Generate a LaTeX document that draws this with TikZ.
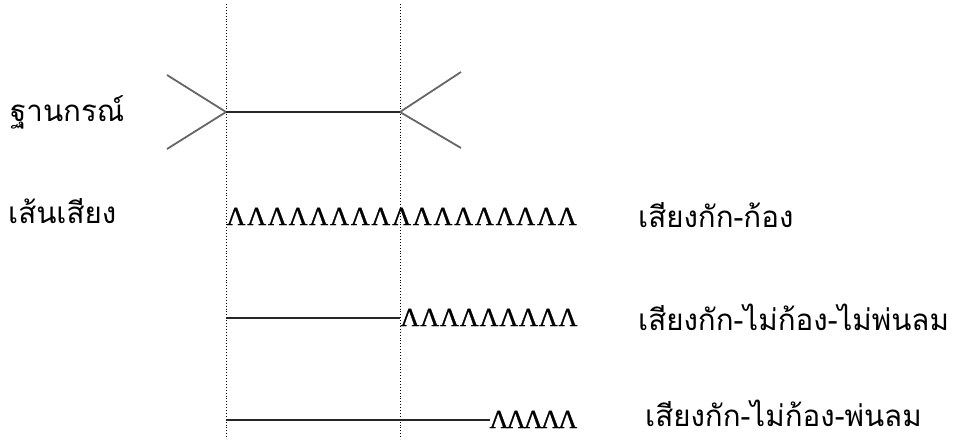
\documentclass[tikz,border=0pt]{standalone}
\usepackage{fontspec}
\setmainfont{Liberation Serif}
\newfontfamily\thaifont[Script=Thai]{Loma}
\newfontfamily\voxfont[FakeBold=1.2]{Liberation Serif}
\usetikzlibrary{positioning}

\begin{document}
\begin{tikzpicture}[x=1pt, y=-1pt,
  lbl/.style={font=\thaifont\fontsize{29.5}{32}\selectfont, inner sep=0pt, text depth=0pt, anchor=base west},
  vox/.style={font=\voxfont\fontsize{26}{26}\selectfont, inner sep=0pt, anchor=base},
  guide/.style={dotted, line width=0.9pt},
  arm/.style={draw=black!60, line width=1.8pt},
  hold/.style={draw=black!85, line width=1.2pt}]
\useasboundingbox (0,0) rectangle (965,439);

% guide lines at closure and release
\coordinate (g1top) at (226,4);
\coordinate (g1bot) at (226,439);
\coordinate (g2top) at (400,4);
\coordinate (g2bot) at (400,439);
\draw[guide] (g1top) -- (g1bot);
\draw[guide] (g2top) -- (g2bot);

% articulators
\node[lbl] (art) at (10,121) {ฐานกรณ์};
\coordinate (c1) at (226,112);
\coordinate (c2) at (400,112);
\coordinate (a1) at (167,75);
\coordinate (a2) at (167,149);
\coordinate (a3) at (461,72);
\coordinate (a4) at (461,148);
\draw[arm] (a1) -- (c1) -- (a2);
\draw[arm] (a3) -- (c2) -- (a4);
\draw[hold] (c1) -- (c2);

% vocal folds
\node[lbl] (vf) at (8,223) {เส้นเสียง};
\foreach \i in {0,...,16}
  \node[vox] (v\i) at (236+20.7*\i,225) {Λ};
\node[lbl] (t1) at (638,227) {เสียงกัก-ก้อง};

\coordinate (r1) at (226,318);
\coordinate (r2) at (400,318);
\draw[hold] (r1) -- (r2);
\foreach \i in {0,...,8}
  \node[vox] (u\i) at (410+19.75*\i,326) {Λ};
\node[lbl] (t2) at (638,330) {เสียงกัก-ไม่ก้อง-ไม่พ่นลม};

\coordinate (s1) at (226,420);
\coordinate (s2) at (490,420);
\draw[hold] (s1) -- (s2);
\foreach \i in {0,...,4}
  \node[vox] (w\i) at (499+17.2*\i,428) {Λ};
\node[lbl] (t3) at (645,426) {เสียงกัก-ไม่ก้อง-พ่นลม};
\end{tikzpicture}
\end{document}
